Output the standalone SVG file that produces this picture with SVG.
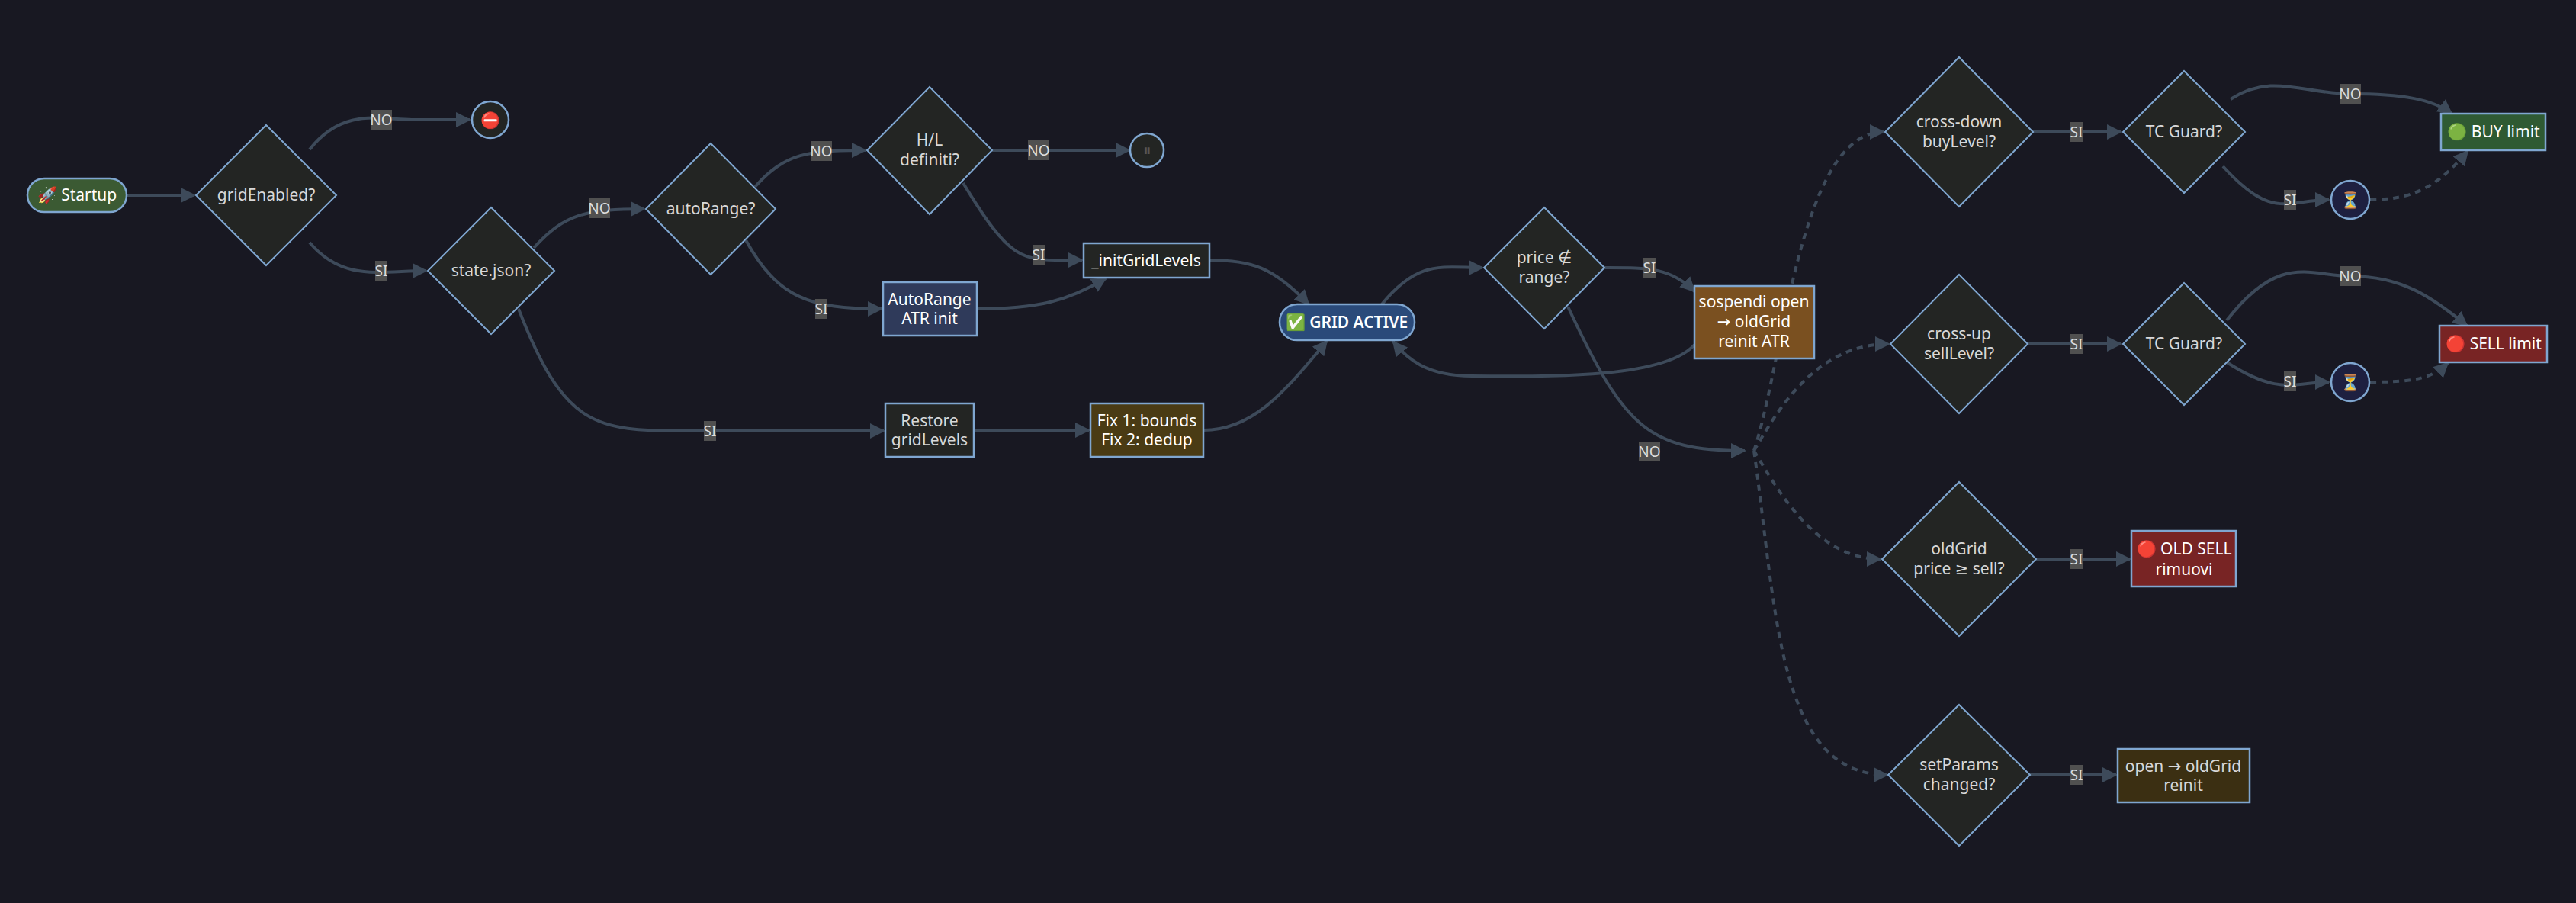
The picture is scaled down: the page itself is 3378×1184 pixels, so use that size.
<svg xmlns="http://www.w3.org/2000/svg" width="3378" height="1184" viewBox="0 0 3378 1184">
<defs>
<marker id="ah" viewBox="0 0 10 10" refX="9" refY="5" markerWidth="20" markerHeight="20" markerUnits="userSpaceOnUse" orient="auto"><path d="M0,0 L10,5 L0,10 z" fill="#3d4a5a"/></marker>
<style>
.e{fill:none;stroke:#3d4a5a;stroke-width:4;marker-end:url(#ah)}
.d{stroke-dasharray:8 7}
.dm{fill:#232523;stroke:#7fa6d0;stroke-width:2}
.bx{stroke:#7fa6d0;stroke-width:2.5}
.t{font-family:"Noto Sans","DejaVu Sans",sans-serif;font-size:21px;fill:#d8d8d8;text-anchor:middle}
.w{fill:#ffffff}
.lb{fill:#505050}
.lt{font-family:"Noto Sans","DejaVu Sans",sans-serif;font-size:19px;fill:#dddddd;text-anchor:middle}
</style>
</defs>
<rect width="3378" height="1184" fill="#181822"/>
<g id="connectors">
<path class="e" d="M166,256 L255,256"/>
<path class="e" d="M406,196 C450,140 500,157 540,157 L616,157"/>
<path class="e" d="M406,318 C450,370 500,355 559,355"/>
<path class="e" d="M700,325 C740,280 770,274 845,274"/>
<path class="e" d="M990,245 C1030,200 1060,197 1135,197"/>
<path class="e" d="M978,315 C1020,390 1060,405 1156,405"/>
<path class="e" d="M680,405 C740,560 780,565 900,565 L1159,565"/>
<path class="e" d="M1301,197 L1481,197"/>
<path class="e" d="M1263,240 C1330,350 1340,341 1419,341"/>
<path class="e" d="M1281,405 C1360,405 1400,395 1450,365"/>
<path class="e" d="M1586,341 C1640,341 1670,350 1716,399"/>
<path class="e" d="M1277,564 L1428,564"/>
<path class="e" d="M1578,564 C1640,564 1680,520 1740,447"/>
<path class="e" d="M1812,399 C1860,340 1890,351 1944,351"/>
<path class="e" d="M2103,351 C2160,351 2190,350 2222,382"/>
<path class="e" d="M2222,452 C2180,500 2000,493 1930,493 C1870,493 1845,470 1827,448"/>
<path class="e" d="M2056,402 C2130,560 2160,591 2288,591"/>
<path class="e d" d="M2300,591 C2340,470 2360,173 2470,173"/>
<path class="e d" d="M2300,591 C2330,540 2380,451 2477,451"/>
<path class="e d" d="M2300,591 C2330,640 2380,733 2466,733"/>
<path class="e d" d="M2300,591 C2330,800 2330,1016 2475,1016"/>
<path class="e" d="M2666,173 L2781,173"/>
<path class="e" d="M2925,130 C2980,95 3020,123 3082,123 C3150,123 3190,130 3215,149"/>
<path class="e" d="M2915,218 C2980,290 3000,262 3054,262"/>
<path class="e d" d="M3108,262 C3170,262 3200,240 3236,198"/>
<path class="e" d="M2659,451 L2781,451"/>
<path class="e" d="M2920,420 C2990,330 3030,362 3082,362 C3150,362 3190,390 3235,427"/>
<path class="e" d="M2920,475 C2990,520 3010,501 3054,501"/>
<path class="e d" d="M3108,501 C3170,501 3190,495 3210,476"/>
<path class="e" d="M2670,733 L2793,733"/>
<path class="e" d="M2662,1016 L2775,1016"/>
<rect class="lb" x="486" y="144" width="28" height="26"/><text class="lt" x="500" y="164">NO</text>
<rect class="lb" x="492" y="342" width="16" height="26"/><text class="lt" x="500" y="362">SI</text>
<rect class="lb" x="772" y="260" width="28" height="26"/><text class="lt" x="786" y="280">NO</text>
<rect class="lb" x="1063" y="185" width="28" height="26"/><text class="lt" x="1077" y="205">NO</text>
<rect class="lb" x="1069" y="392" width="16" height="26"/><text class="lt" x="1077" y="412">SI</text>
<rect class="lb" x="923" y="552" width="16" height="26"/><text class="lt" x="931" y="572">SI</text>
<rect class="lb" x="1348" y="184" width="28" height="26"/><text class="lt" x="1362" y="204">NO</text>
<rect class="lb" x="1354" y="321" width="16" height="26"/><text class="lt" x="1362" y="341">SI</text>
<rect class="lb" x="2155" y="338" width="16" height="26"/><text class="lt" x="2163" y="358">SI</text>
<rect class="lb" x="2149" y="579" width="28" height="26"/><text class="lt" x="2163" y="599">NO</text>
<rect class="lb" x="2715" y="160" width="16" height="26"/><text class="lt" x="2723" y="180">SI</text>
<rect class="lb" x="3068" y="110" width="28" height="26"/><text class="lt" x="3082" y="130">NO</text>
<rect class="lb" x="2995" y="249" width="16" height="26"/><text class="lt" x="3003" y="269">SI</text>
<rect class="lb" x="2715" y="438" width="16" height="26"/><text class="lt" x="2723" y="458">SI</text>
<rect class="lb" x="3068" y="349" width="28" height="26"/><text class="lt" x="3082" y="369">NO</text>
<rect class="lb" x="2995" y="487" width="16" height="26"/><text class="lt" x="3003" y="507">SI</text>
<rect class="lb" x="2715" y="720" width="16" height="26"/><text class="lt" x="2723" y="740">SI</text>
<rect class="lb" x="2715" y="1003" width="16" height="26"/><text class="lt" x="2723" y="1023">SI</text>
</g>
<g id="startup"><rect class="bx" x="36" y="234" width="130" height="44" rx="22" fill="#3b5a33"/><text class="t w" x="101" y="263">🚀 Startup</text></g>
<g id="gridEnabled"><path class="dm" d="M349,164 L441,256 L349,348 L257,256 z"/><text class="t" x="349" y="263">gridEnabled?</text></g>
<g id="stop"><circle class="bx" cx="643" cy="157" r="24" fill="#232523"/><text class="t" x="643" y="165">⛔</text></g>
<g id="statejson"><path class="dm" d="M644,272 L727,355 L644,438 L561,355 z"/><text class="t" x="644" y="362">state.json?</text></g>
<g id="autoRange"><path class="dm" d="M932,188 L1017,274 L932,360 L847,274 z"/><text class="t" x="932" y="281">autoRange?</text></g>
<g id="hl"><path class="dm" d="M1219,114 L1301,197 L1219,281 L1137,197 z"/><text class="t" x="1219" y="191">H/L</text><text class="t" x="1219" y="217">definiti?</text></g>
<g id="pause"><circle class="bx" cx="1504" cy="197" r="22" fill="#232523"/><text class="t" x="1504" y="204" style="fill:#555">⏸</text></g>
<g id="initGrid"><rect class="bx" x="1421" y="319" width="165" height="45" fill="#232523"/><text class="t w" x="1503" y="349">_initGridLevels</text></g>
<g id="autoATR"><rect class="bx" x="1158" y="370" width="123" height="70" fill="#2f3a5a"/><text class="t w" x="1219" y="400">AutoRange</text><text class="t w" x="1219" y="425">ATR init</text></g>
<g id="gridActive"><rect class="bx" x="1678" y="399" width="177" height="47" rx="23" fill="#2a4a7a"/><text class="t w" x="1766" y="430" style="font-weight:600">✅ GRID ACTIVE</text></g>
<g id="price"><path class="dm" d="M2025,272 L2104,351 L2025,431 L1946,351 z"/><text class="t" x="2025" y="345">price ∉</text><text class="t" x="2025" y="371">range?</text></g>
<g id="sospendi"><rect class="bx" x="2222" y="375" width="157" height="95" fill="#7a5020"/><text class="t w" x="2300" y="403">sospendi open</text><text class="t w" x="2300" y="429">→ oldGrid</text><text class="t w" x="2300" y="455">reinit ATR</text></g>
<g id="restore"><rect class="bx" x="1161" y="529" width="116" height="70" fill="#232523"/><text class="t" x="1219" y="559">Restore</text><text class="t" x="1219" y="584">gridLevels</text></g>
<g id="fix"><rect class="bx" x="1430" y="529" width="148" height="70" fill="#4a3b14"/><text class="t w" x="1504" y="559">Fix 1: bounds</text><text class="t w" x="1504" y="584">Fix 2: dedup</text></g>
<g id="crossDown"><path class="dm" d="M2569,75 L2666,173 L2569,271 L2472,173 z"/><text class="t" x="2569" y="167">cross-down</text><text class="t" x="2569" y="193">buyLevel?</text></g>
<g id="tc1"><path class="dm" d="M2864,93 L2944,173 L2864,253 L2784,173 z"/><text class="t" x="2864" y="180">TC Guard?</text></g>
<g id="buy"><rect class="bx" x="3201" y="149" width="137" height="48" fill="#2f5a33"/><text class="t w" x="3270" y="180">🟢 BUY limit</text></g>
<g id="hour1"><circle class="bx" cx="3082" cy="262" r="25" fill="#1e2040"/><text class="t" x="3082" y="270">⏳</text></g>
<g id="crossUp"><path class="dm" d="M2569,360 L2659,451 L2569,542 L2479,451 z"/><text class="t" x="2569" y="445">cross-up</text><text class="t" x="2569" y="471">sellLevel?</text></g>
<g id="tc2"><path class="dm" d="M2864,371 L2944,451 L2864,531 L2784,451 z"/><text class="t" x="2864" y="458">TC Guard?</text></g>
<g id="sell"><rect class="bx" x="3199" y="427" width="141" height="48" fill="#782424"/><text class="t w" x="3270" y="458">🔴 SELL limit</text></g>
<g id="hour2"><circle class="bx" cx="3082" cy="501" r="25" fill="#1e2040"/><text class="t" x="3082" y="509">⏳</text></g>
<g id="oldGrid"><path class="dm" d="M2569,632 L2670,733 L2569,834 L2468,733 z"/><text class="t" x="2569" y="727">oldGrid</text><text class="t" x="2569" y="753">price ≥ sell?</text></g>
<g id="oldSell"><rect class="bx" x="2795" y="696" width="137" height="73" fill="#782424"/><text class="t w" x="2864" y="727">🔴 OLD SELL</text><text class="t w" x="2864" y="754">rimuovi</text></g>
<g id="setParams"><path class="dm" d="M2569,924 L2662,1016 L2569,1109 L2476,1016 z"/><text class="t" x="2569" y="1010">setParams</text><text class="t" x="2569" y="1036">changed?</text></g>
<g id="reinit"><rect class="bx" x="2777" y="982" width="173" height="70" fill="#3b2f12"/><text class="t" x="2863" y="1012">open → oldGrid</text><text class="t" x="2863" y="1037">reinit</text></g>
</svg>
